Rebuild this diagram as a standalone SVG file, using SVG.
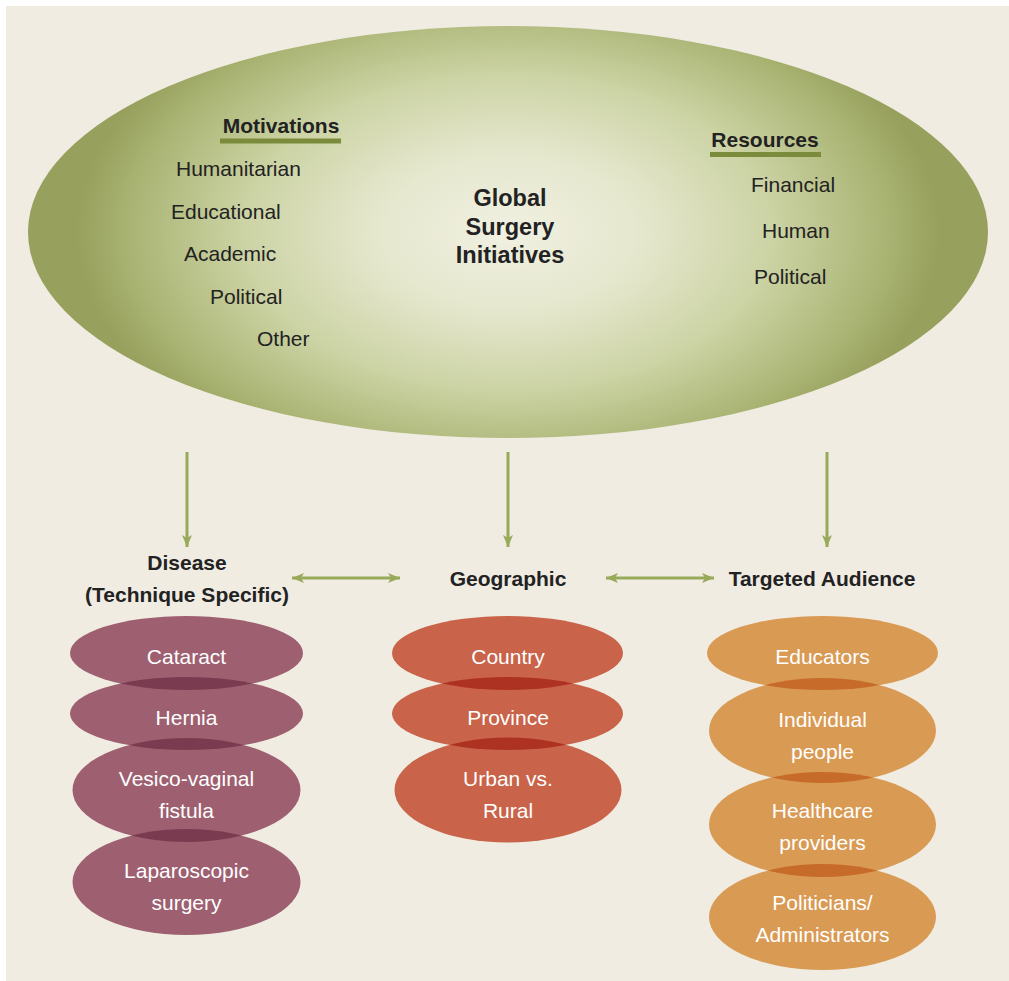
<svg xmlns="http://www.w3.org/2000/svg" width="1009" height="981" viewBox="0 0 1009 981">
<defs>
<style>
.t{font-family:"Liberation Sans",Arial,sans-serif;font-size:21px;fill:#222;}
.b{font-weight:bold;}
.w{font-family:"Liberation Sans",Arial,sans-serif;font-size:21px;fill:#fff;text-anchor:middle;}
.c{text-anchor:middle;}
.arr{stroke:#97AA5A;stroke-width:3;fill:none;}
.mv{fill:#9E6070;} .mvd{fill:#7A3A50;}
.rd{fill:#C96349;} .rdd{fill:#AE3222;}
.or{fill:#D99A54;} .ord{fill:#C76B2A;}
</style>
<radialGradient id="big" gradientUnits="userSpaceOnUse" cx="508" cy="232" r="480" gradientTransform="translate(0,232) scale(1,0.6) translate(0,-232)">
<stop offset="0" stop-color="#F1F0E2"/>
<stop offset="0.28" stop-color="#E5E7CD"/>
<stop offset="0.55" stop-color="#CCD3A4"/>
<stop offset="0.78" stop-color="#ABB575"/>
<stop offset="0.9" stop-color="#97A05C"/>
<stop offset="1" stop-color="#97A05C"/>
</radialGradient>
<marker id="ah" viewBox="0 0 12 10" refX="12" refY="5" markerWidth="12" markerHeight="10" markerUnits="userSpaceOnUse" orient="auto-start-reverse">
<path d="M0,0 L12,5 L0,10 L3,5 z" fill="#97AA5A"/>
</marker>
<clipPath id="cm1"><ellipse cx="186.5" cy="653" rx="116.5" ry="37"/></clipPath>
<clipPath id="cm2"><ellipse cx="186.5" cy="713.5" rx="116.5" ry="36.5"/></clipPath>
<clipPath id="cm3"><ellipse cx="186.5" cy="790" rx="114" ry="52"/></clipPath>
<clipPath id="cg1"><ellipse cx="507.5" cy="653" rx="115.5" ry="37"/></clipPath>
<clipPath id="cg2"><ellipse cx="507.5" cy="713.5" rx="115.5" ry="36.5"/></clipPath>
<clipPath id="ct1"><ellipse cx="822.5" cy="653" rx="115.5" ry="37"/></clipPath>
<clipPath id="ct2"><ellipse cx="822.5" cy="730.5" rx="113.5" ry="52.5"/></clipPath>
<clipPath id="ct3"><ellipse cx="822.5" cy="824.5" rx="113.5" ry="52.5"/></clipPath>
</defs>
<rect x="0" y="0" width="1009" height="981" fill="#fff"/>
<rect x="6" y="6" width="1003" height="975" fill="#F0ECE2"/>

<g id="global">
<ellipse cx="508" cy="232" rx="480" ry="206" fill="url(#big)"/>
<text class="t b c" x="510" y="206" style="font-size:23.5px">Global</text>
<text class="t b c" x="510" y="235" style="font-size:23.5px">Surgery</text>
<text class="t b c" x="510" y="263" style="font-size:23.5px">Initiatives</text>
</g>
<g id="motivations">
<text class="t b c" x="281" y="133">Motivations</text>
<rect x="220" y="138.5" width="121" height="5" fill="#7A8C3C"/>
<text class="t" x="176" y="175.5">Humanitarian</text>
<text class="t" x="171" y="218.5">Educational</text>
<text class="t" x="184" y="260.5">Academic</text>
<text class="t" x="210" y="303.5">Political</text>
<text class="t" x="257" y="345.5">Other</text>
</g>
<g id="resources">
<text class="t b c" x="765" y="147">Resources</text>
<rect x="710" y="152" width="111" height="5" fill="#7A8C3C"/>
<text class="t" x="751" y="191.5">Financial</text>
<text class="t" x="762" y="237.5">Human</text>
<text class="t" x="754" y="283.5">Political</text>
</g>

<g id="connectors">
<line class="arr" x1="187" y1="452" x2="187" y2="547" marker-end="url(#ah)"/>
<line class="arr" x1="508" y1="452" x2="508" y2="547" marker-end="url(#ah)"/>
<line class="arr" x1="827" y1="452" x2="827" y2="547" marker-end="url(#ah)"/>
<line class="arr" x1="292" y1="578" x2="400" y2="578" marker-start="url(#ah)" marker-end="url(#ah)"/>
<line class="arr" x1="606" y1="578" x2="714" y2="578" marker-start="url(#ah)" marker-end="url(#ah)"/>
</g>

<g id="disease">
<text class="t b c" x="187" y="569.5">Disease</text>
<text class="t b c" x="187" y="601.5">(Technique Specific)</text>
<ellipse class="mv" cx="186.5" cy="653" rx="116.5" ry="37"/>
<ellipse class="mv" cx="186.5" cy="713.5" rx="116.5" ry="36.5"/>
<ellipse class="mv" cx="186.5" cy="790" rx="114" ry="52"/>
<ellipse class="mv" cx="186.5" cy="882" rx="114" ry="53"/>
<ellipse class="mvd" cx="186.5" cy="713.5" rx="116.5" ry="36.5" clip-path="url(#cm1)"/>
<ellipse class="mvd" cx="186.5" cy="790" rx="114" ry="52" clip-path="url(#cm2)"/>
<ellipse class="mvd" cx="186.5" cy="882" rx="114" ry="53" clip-path="url(#cm3)"/>
<text class="w" x="186.5" y="663.5">Cataract</text>
<text class="w" x="186.5" y="724.5">Hernia</text>
<text class="w" x="186.5" y="785.5">Vesico-vaginal</text>
<text class="w" x="186.5" y="817.5">fistula</text>
<text class="w" x="186.5" y="878">Laparoscopic</text>
<text class="w" x="186.5" y="910">surgery</text>
</g>

<g id="geographic">
<text class="t b c" x="508" y="585.5">Geographic</text>
<ellipse class="rd" cx="507.5" cy="653" rx="115.5" ry="37"/>
<ellipse class="rd" cx="507.5" cy="713.5" rx="115.5" ry="36.5"/>
<ellipse class="rd" cx="508" cy="790" rx="113.5" ry="52.5"/>
<ellipse class="rdd" cx="507.5" cy="713.5" rx="115.5" ry="36.5" clip-path="url(#cg1)"/>
<ellipse class="rdd" cx="508" cy="790" rx="113.5" ry="52.5" clip-path="url(#cg2)"/>
<text class="w" x="508" y="663.5">Country</text>
<text class="w" x="508" y="724.5">Province</text>
<text class="w" x="508" y="785.5">Urban vs.</text>
<text class="w" x="508" y="817.5">Rural</text>
</g>

<g id="audience">
<text class="t b c" x="822" y="585.5">Targeted Audience</text>
<ellipse class="or" cx="822.5" cy="653" rx="115.5" ry="37"/>
<ellipse class="or" cx="822.5" cy="730.5" rx="113.5" ry="52.5"/>
<ellipse class="or" cx="822.5" cy="824.5" rx="113.5" ry="52.5"/>
<ellipse class="or" cx="822.5" cy="917" rx="113.5" ry="53"/>
<ellipse class="ord" cx="822.5" cy="730.5" rx="113.5" ry="52.5" clip-path="url(#ct1)"/>
<ellipse class="ord" cx="822.5" cy="824.5" rx="113.5" ry="52.5" clip-path="url(#ct2)"/>
<ellipse class="ord" cx="822.5" cy="917" rx="113.5" ry="53" clip-path="url(#ct3)"/>
<text class="w" x="822.5" y="663.5">Educators</text>
<text class="w" x="822.5" y="726.5">Individual</text>
<text class="w" x="822.5" y="758.5">people</text>
<text class="w" x="822.5" y="817.5">Healthcare</text>
<text class="w" x="822.5" y="849.5">providers</text>
<text class="w" x="822.5" y="909.5">Politicians/</text>
<text class="w" x="822.5" y="941.5">Administrators</text>
</g>
</svg>
